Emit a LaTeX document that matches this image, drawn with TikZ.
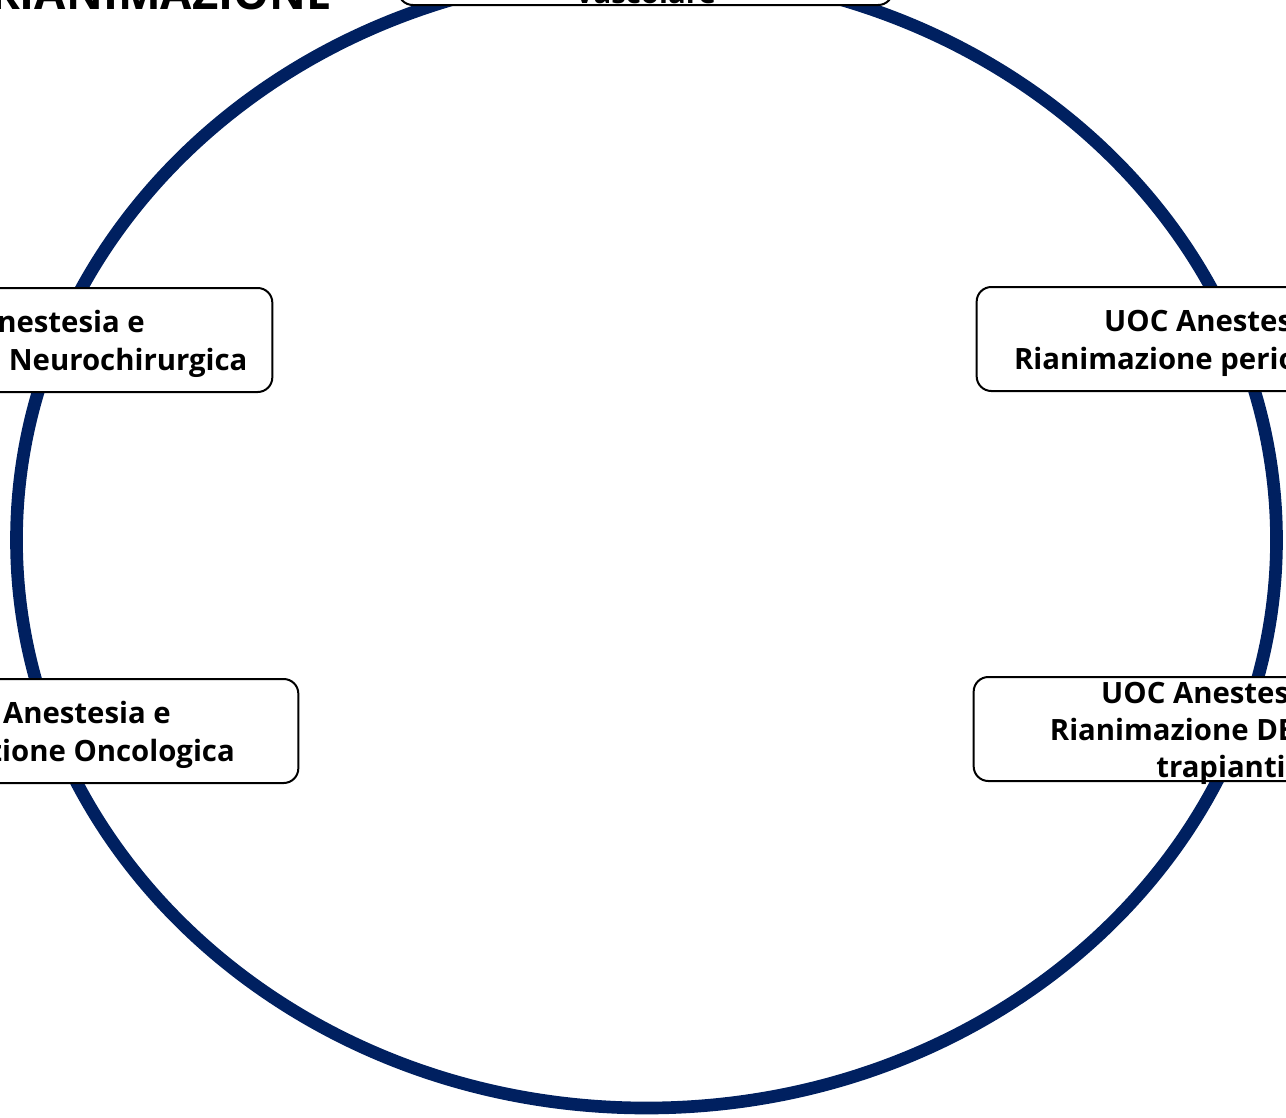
\documentclass[tikz,border=0pt]{standalone}
\usepackage{fontspec}
\setmainfont{Open Sans}
\usetikzlibrary{positioning}
\definecolor{blunotte}{RGB}{0,32,96}
\tikzset{
  unita/.style={draw, line width=1.5pt, rounded corners=11pt, fill=white,
    minimum width=371pt, minimum height=78pt, inner sep=0pt},
  testo/.style={inner sep=0pt, align=center,
    font=\bfseries\fontsize{22}{28}\selectfont},
  titolo/.style={inner sep=0pt, font=\bfseries\fontsize{34}{40}\selectfont}
}
\begin{document}
\begin{tikzpicture}[x=0.75pt,y=-0.75pt]
	\useasboundingbox (0,0) rectangle (1286,1118);
	\clip (0,0) rectangle (1286,1118);
	% anello
	\draw[blunotte, line width=9.5pt] (646.5,540) ellipse [x radius=630, y radius=568];
	\node[titolo, anchor=base east] (tit) at (332,9) {RIANIMAZIONE};
	% unita operative
	\node[unita] (vasc) at (645.5,-47) {};
	\node[testo, anchor=base] (vasc-t) at (645.5,3) {Vascolare};
	\node[unita] (neuro) at (25,340) {};
	\node[testo] (neuro-t) at ([yshift=-3pt]neuro.center) {UOC Anestesia e\\Rianimazione Neurochirurgica};
	\node[unita] (onco) at (51,731) {};
	\node[testo] (onco-t) at ([yshift=-3pt]onco.center) {UOC Anestesia e\\Rianimazione Oncologica};
	\node[unita] (perio) at (1224,339) {};
	\node[testo] (perio-t) at ([yshift=-3pt]perio.center) {UOC Anestesia e\\Rianimazione perioperatoria};
	\node[unita] (dea) at (1221,729) {};
	\node[testo] (dea-t) at ([yshift=-3pt]dea.center) {UOC Anestesia e\\Rianimazione DEA e dei\\trapianti};
\end{tikzpicture}
\end{document}
